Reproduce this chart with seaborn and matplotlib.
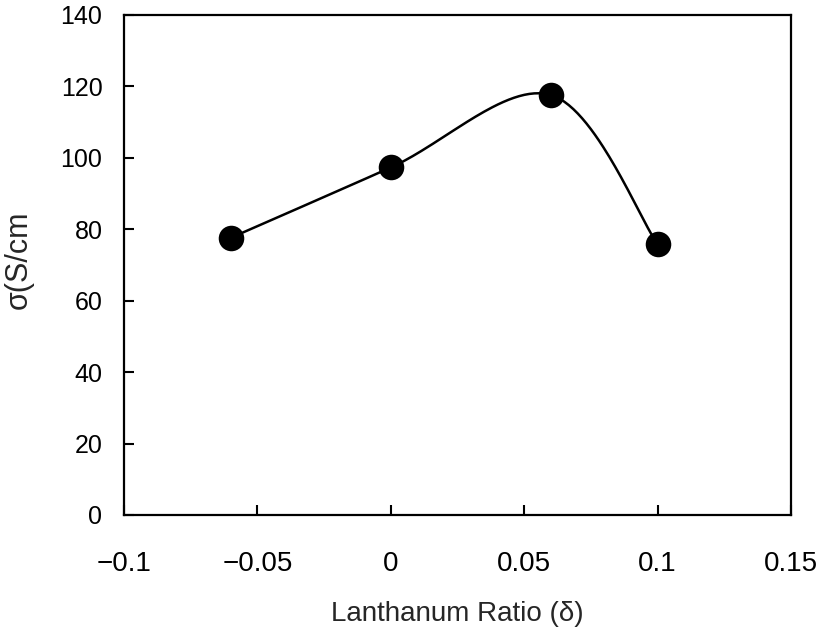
import numpy as np
import matplotlib
matplotlib.use("Agg")
import matplotlib.pyplot as plt
import seaborn as sns
import pandas as pd

# Data
delta = [-0.06, 0.0, 0.06, 0.1]
sigma = [77.6, 97.3, 117.6, 75.8]
x_ticks = [-0.1, -0.05, 0.0, 0.05, 0.1, 0.15]
x_tick_labels = ["\u22120.1", "\u22120.05", "0", "0.05", "0.1", "0.15"]
y_ticks = [0, 20, 40, 60, 80, 100, 120, 140]
y_tick_labels = ["0", "20", "40", "60", "80", "100", "120", "140"]
x_label = "Lanthanum Ratio (\u03b4)"
y_label = "\u03c3(S/cm"

sns.set_style("ticks")
plt.rcParams['font.family'] = ['Liberation Sans', 'DejaVu Sans']

fig = plt.figure(figsize=(8.21, 6.35), dpi=100)
ax = fig.add_axes([0.151, 0.189, 0.8124, 0.7874])
ax.set_xlim(-0.1, 0.15)
ax.set_ylim(0, 140)

# Smoothed line (Bezier smoothing through the data points, in display space)
pts = ax.transData.transform(np.column_stack([delta, sigma]))
P = np.vstack([pts[0], pts, pts[-1]])
segs = []
t = np.linspace(0, 1, 60)[:, None]
for i in range(1, len(P) - 2):
    p0, p1, p2, p3 = P[i - 1], P[i], P[i + 1], P[i + 2]
    c1 = p1 + (p2 - p0) / 6.0
    c2 = p2 - (p3 - p1) / 6.0
    seg = (1 - t) ** 3 * p1 + 3 * (1 - t) ** 2 * t * c1 + 3 * (1 - t) * t ** 2 * c2 + t ** 3 * p2
    segs.append(seg if i == 1 else seg[1:])
curve = ax.transData.inverted().transform(np.vstack(segs))
df_curve = pd.DataFrame({"x": curve[:, 0], "y": curve[:, 1]})

sns.lineplot(data=df_curve, x="x", y="y", sort=False, estimator=None,
             color="black", lw=1.8, ax=ax)
sns.scatterplot(x=delta, y=sigma, s=290, color="black", edgecolor="black",
                zorder=3, ax=ax, legend=False)

ax.set_xlim(-0.1, 0.15)
ax.set_ylim(0, 140)
ax.set_xticks(x_ticks)
ax.set_xticklabels(x_tick_labels, fontsize=20)
ax.set_yticks(y_ticks)
ax.set_yticklabels(y_tick_labels, fontsize=18)
ax.tick_params(axis="x", direction="in", length=7, width=1.5, pad=26, colors="black")
ax.tick_params(axis="y", direction="in", length=7, width=1.5, pad=15.5, colors="black")

for s in ax.spines.values():
    s.set_visible(True)
    s.set_linewidth(1.6)
    s.set_color("black")

ax.set_xlabel(x_label, fontsize=20)
ax.set_ylabel(y_label, fontsize=22)
ax.xaxis.set_label_coords(0.5, -0.172)
ax.yaxis.set_label_coords(-0.136, 0.51)

fig.savefig("out.png", dpi=100, facecolor="white")
